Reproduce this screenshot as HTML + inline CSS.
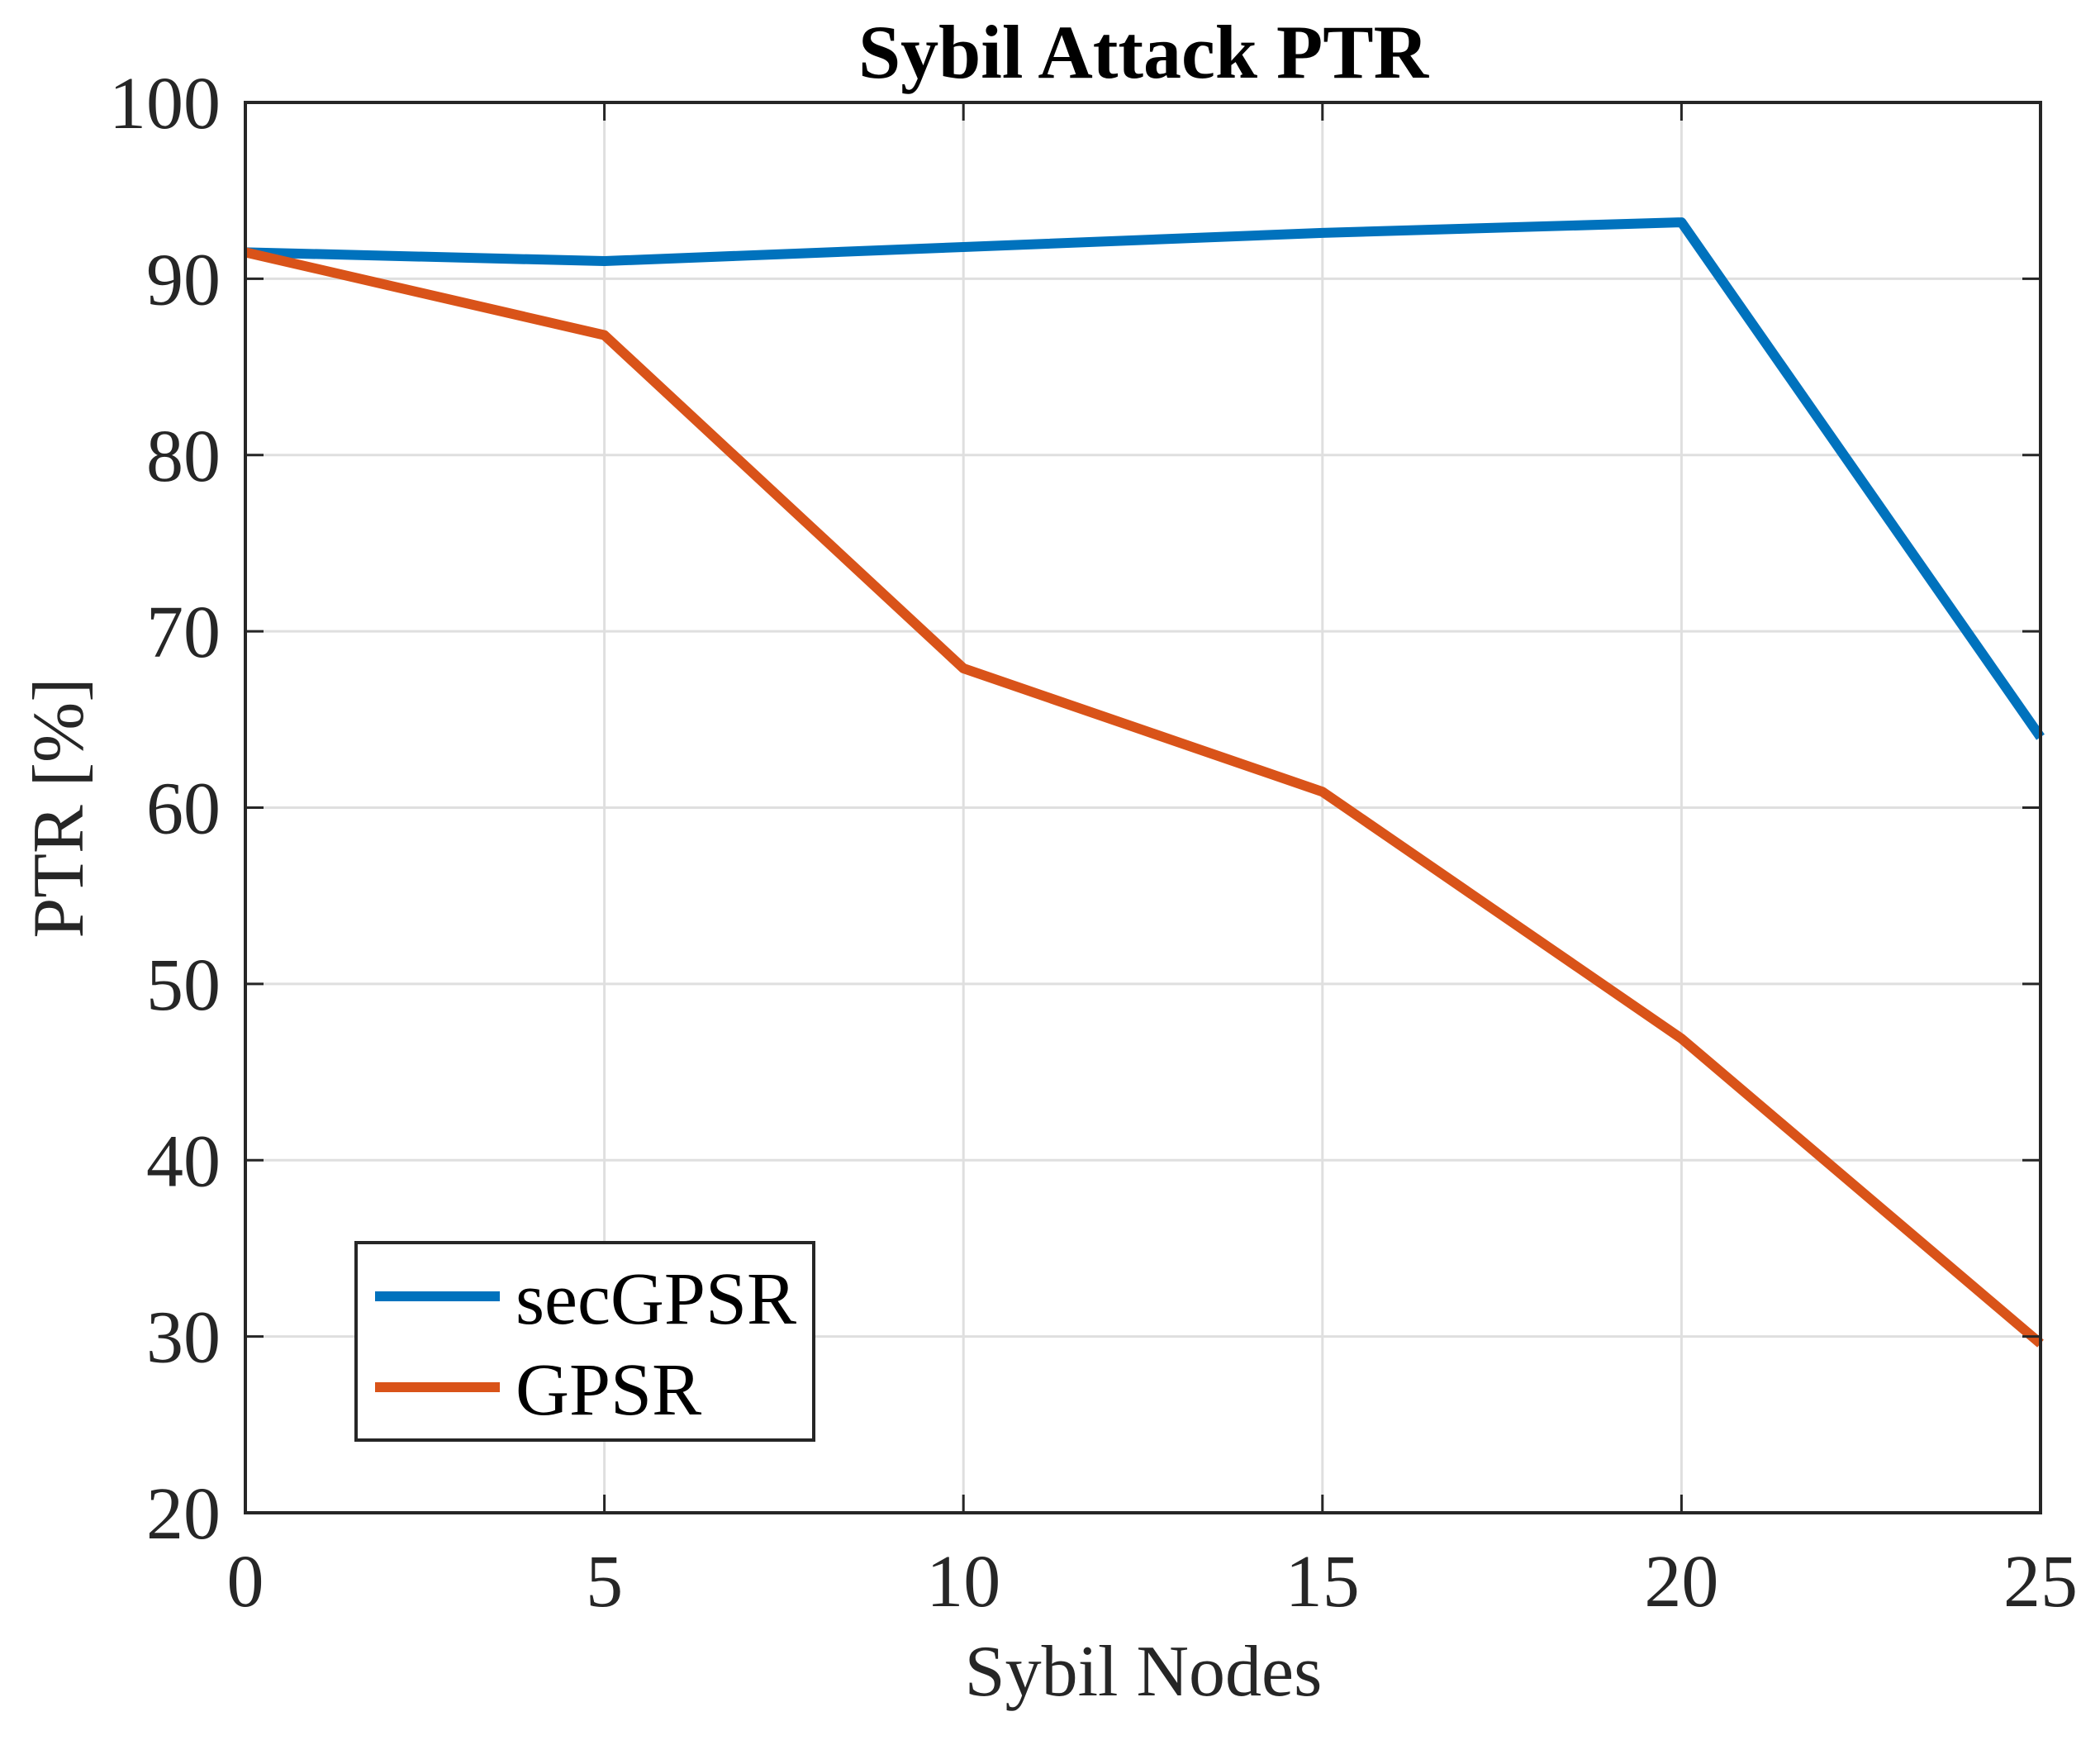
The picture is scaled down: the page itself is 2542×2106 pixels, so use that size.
<!DOCTYPE html>
<html><head><meta charset="utf-8"><style>
html,body{margin:0;padding:0;background:#fff;}
svg{display:block;font-family:"Liberation Serif",serif;}
</style></head><body>
<svg id="chart" width="2542" height="2106" viewBox="0 0 2542 2106" xmlns="http://www.w3.org/2000/svg">
<rect width="2542" height="2106" fill="#fff"/>
<g id="grid"></g>
<g id="series"></g>
<rect x="297" y="124" width="2173" height="1707" fill="none" stroke="#262626" stroke-width="4"/>
<g id="ticks"></g>
<text x="1384" y="94" text-anchor="middle" font-size="92" font-weight="bold" fill="#000">Sybil Attack PTR</text>
<text x="1384" y="2052" text-anchor="middle" font-size="88" fill="#262626">Sybil Nodes</text>
<text transform="translate(100,978) rotate(-90)" text-anchor="middle" font-size="88" fill="#262626">PTR [%]</text>
<g>
<rect x="431" y="1504" width="554" height="239" fill="#fff" stroke="#262626" stroke-width="4"/>
<line x1="454" y1="1569" x2="605" y2="1569" stroke="#0072BD" stroke-width="12"/>
<text x="624" y="1602" font-size="90" fill="#000">secGPSR</text>
<line x1="454" y1="1679" x2="605" y2="1679" stroke="#D95319" stroke-width="12"/>
<text x="624" y="1712" font-size="90" fill="#000">GPSR</text>
</g>
</svg>
<script>
const categories = [0, 5, 10, 15, 20, 25];
const secGPSR = [91.5, 91.0, 91.8, 92.6, 93.2, 64.0];
const GPSR = [91.5, 86.8, 67.9, 60.9, 46.9, 29.6];
const xTicks = [0, 5, 10, 15, 20, 25];
const yTicks = [20, 30, 40, 50, 60, 70, 80, 90, 100];

const NS = "http://www.w3.org/2000/svg";
const L = 297, R = 2470, T = 124, B = 1831;
function xs(v){ return L + (v - 0) / 25 * (R - L); }
function ys(v){ return B - (v - 20) / 80 * (B - T); }
function mk(tag, attrs, parent){
  const e = document.createElementNS(NS, tag);
  for (const k in attrs) e.setAttribute(k, attrs[k]);
  parent.appendChild(e);
  return e;
}
const grid = document.getElementById('grid');
const ticks = document.getElementById('ticks');
const series = document.getElementById('series');

xTicks.forEach(t => {
  const x = xs(t);
  const g = mk('line', {x1:x, y1:T, x2:x, y2:B, stroke:'#dfdfdf', 'stroke-width':3}, grid);
  
  
  const a = mk('line', {x1:x, y1:B, x2:x, y2:B-22, stroke:'#262626', 'stroke-width':3}, ticks);
  
  
  const b = mk('line', {x1:x, y1:T, x2:x, y2:T+22, stroke:'#262626', 'stroke-width':3}, ticks);
  
  
  const lb = mk('text', {x:x, y:1944, 'text-anchor':'middle', 'font-size':90, fill:'#262626'}, ticks);
  lb.textContent = t;
  
  
});
yTicks.forEach(t => {
  const y = ys(t);
  const g = mk('line', {x1:L, y1:y, x2:R, y2:y, stroke:'#dfdfdf', 'stroke-width':3}, grid);
  
  
  const a = mk('line', {x1:L, y1:y, x2:L+22, y2:y, stroke:'#262626', 'stroke-width':3}, ticks);
  
  
  const b = mk('line', {x1:R, y1:y, x2:R-22, y2:y, stroke:'#262626', 'stroke-width':3}, ticks);
  
  
  const lb = mk('text', {x:267, y:y+31, 'text-anchor':'end', 'font-size':90, fill:'#262626'}, ticks);
  lb.textContent = t;
  
  
});
function drawLine(vals, color, name){
  const pts = vals.map((v,i) => xs(categories[i]) + ',' + ys(v)).join(' ');
  const p = mk('polyline', {points:pts, fill:'none', stroke:color, 'stroke-width':12, 'stroke-linejoin':'round'}, series);
  
  
}
drawLine(secGPSR, '#0072BD', 'secgpsr-line');
drawLine(GPSR, '#D95319', 'gpsr-line');
</script>
</body></html>
